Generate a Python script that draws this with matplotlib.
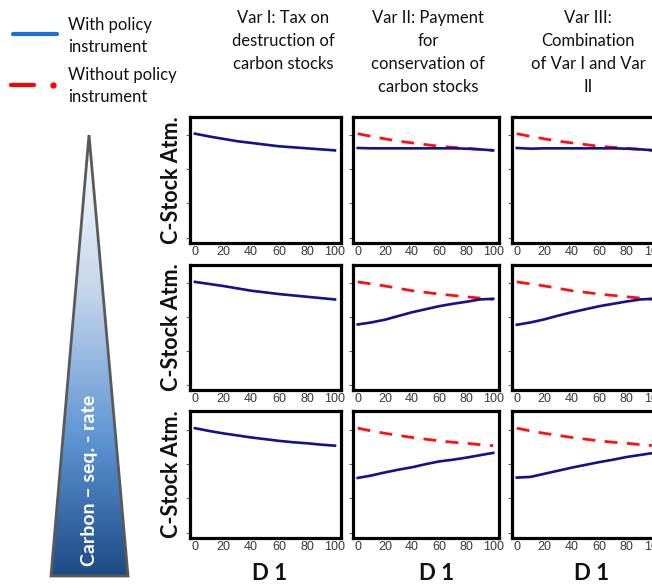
import numpy as np
import matplotlib.pyplot as plt
from matplotlib.patches import Polygon
from matplotlib.colors import LinearSegmentedColormap

# time axis (years) and read-off C-stock values per row (row = seq. rate level)
years = [0, 10, 20, 30, 40, 50, 60, 70, 80, 90, 100]

# baseline, without policy instrument (= Var I curve)
base_r1 = [3.05, 2.97, 2.90, 2.83, 2.78, 2.73, 2.68, 2.65, 2.62, 2.59, 2.56]
base_r2 = [3.04, 2.98, 2.92, 2.85, 2.78, 2.73, 2.68, 2.64, 2.60, 2.56, 2.52]
base_r3 = [3.04, 2.96, 2.89, 2.83, 2.77, 2.72, 2.67, 2.63, 2.60, 2.56, 2.53]

# with policy instrument, Var II and Var III
var2_r1 = [2.63, 2.62, 2.62, 2.62, 2.62, 2.62, 2.62, 2.62, 2.61, 2.59, 2.56]
var3_r1 = [2.63, 2.61, 2.62, 2.62, 2.62, 2.62, 2.62, 2.62, 2.61, 2.59, 2.56]
var2_r2 = [1.78, 1.84, 1.92, 2.03, 2.14, 2.23, 2.32, 2.39, 2.45, 2.52, 2.54]
var3_r2 = [1.77, 1.84, 1.93, 2.04, 2.14, 2.23, 2.32, 2.39, 2.46, 2.52, 2.54]
var2_r3 = [1.59, 1.66, 1.75, 1.83, 1.90, 1.99, 2.07, 2.12, 2.18, 2.25, 2.32]
var3_r3 = [1.60, 1.62, 1.71, 1.80, 1.89, 1.97, 2.05, 2.12, 2.20, 2.26, 2.32]

baselines = [base_r1, base_r2, base_r3]
policy = [[base_r1, var2_r1, var3_r1],
          [base_r2, var2_r2, var3_r2],
          [base_r3, var2_r3, var3_r3]]

col_titles = ["Var I: Tax on\ndestruction of\ncarbon stocks",
              "Var II: Payment\nfor\nconservation of\ncarbon stocks",
              "Var III:\nCombination\nof Var I and Var\nII"]
row_label = "C-Stock Atm."
col_xlabel = "D 1"
xticks = [0, 20, 40, 60, 80, 100]

W, H = 652, 585
fig = plt.figure(figsize=(W / 100, H / 100), dpi=100)

navy = "#12128a"
red = "#ff1010"

# panel geometry in pixels
lefts = [190, 353, 512]
widths = [151, 146, 148]
tops = [117, 265, 411]
heights = [126, 125, 127]

for r in range(3):
    for c in range(3):
        ax = fig.add_axes([lefts[c] / W, 1 - (tops[r] + heights[r]) / H,
                           widths[c] / W, heights[r] / H])
        if c > 0:
            ax.plot(years, baselines[r], color=red, lw=2.0, dashes=[4.6, 3.4],
                    solid_capstyle="butt", zorder=2)
        ax.plot(years, policy[r][c], color=navy, lw=1.9, zorder=3)
        ax.set_xlim(-3.5, 104.3)
        ax.set_ylim(-0.16, 3.54)
        ax.set_xticks(xticks)
        ax.set_xticklabels([str(t) for t in xticks], fontsize=9,
                           family="Liberation Sans", color="#3a3a3a")
        ax.set_yticks([0, 1, 2, 3])
        ax.set_yticklabels([])
        ax.tick_params(axis="y", length=3, width=0.8, color="#666666")
        ax.tick_params(axis="x", length=0, pad=2)
        for s in ax.spines.values():
            s.set_linewidth(2.3)
            s.set_color("black")

# overlay in pixel coordinates for labels, legend and triangle
ov = fig.add_axes([0, 0, 1, 1], zorder=-1)
ov.set_xlim(0, W)
ov.set_ylim(H, 0)
ov.axis("off")

title_x = [283, 428, 588]
for c in range(3):
    ov.text(title_x[c], 10, col_titles[c], ha="center", va="top", fontsize=12,
            family="Lato", linespacing=1.55, color="#111111")

xlab_x = [270, 437, 592]
for c in range(3):
    ov.text(xlab_x[c], 574, col_xlabel, ha="center", va="center", fontsize=16,
            family="Lato", weight="bold", color="#111111")

for r in range(3):
    ov.text(171, tops[r] + heights[r] / 2, row_label, rotation=90, ha="center",
            va="center", fontsize=15.5, family="Lato", weight="bold", color="#111111")

# legend
ov.plot([13, 57], [34, 34], color="#1e6fd9", lw=3, solid_capstyle="round")
ov.text(68, 36, "With policy\ninstrument", ha="left", va="center", fontsize=12,
        family="Lato", linespacing=1.5, color="#111111")
ov.plot([11, 34], [85, 85], color="#ff0000", lw=3, solid_capstyle="round")
ov.plot([53], [85], "o", color="#ff0000", ms=3.5)
ov.text(68, 86, "Without policy\ninstrument", ha="left", va="center", fontsize=12,
        family="Lato", linespacing=1.5, color="#111111")

# triangle with gradient
tri = Polygon([[89, 135], [51, 576], [128, 576]], closed=True, fill=False,
              edgecolor="#5a5a5a", lw=2, zorder=3)
ov.add_patch(tri)
cmap = LinearSegmentedColormap.from_list(
    "tri", [(0, "#ffffff"), (0.35, "#c5d6ec"), (0.7, "#5b92d2"), (1, "#1d4b85")])
grad = np.linspace(0, 1, 256).reshape(-1, 1)
im = ov.imshow(grad, cmap=cmap, extent=[51, 128, 576, 135], aspect="auto",
               origin="upper", zorder=2)
clip = Polygon([[89, 135], [51, 576], [128, 576]], closed=True,
               transform=ov.transData)
im.set_clip_path(clip)
ov.text(90, 566, "Carbon – seq. - rate", rotation=90, ha="center", va="bottom",
        rotation_mode="default", fontsize=14, family="Lato", weight="bold",
        color="white", zorder=4)
ov.set_xlim(0, W)
ov.set_ylim(H, 0)

fig.savefig("out.png", dpi=100)
